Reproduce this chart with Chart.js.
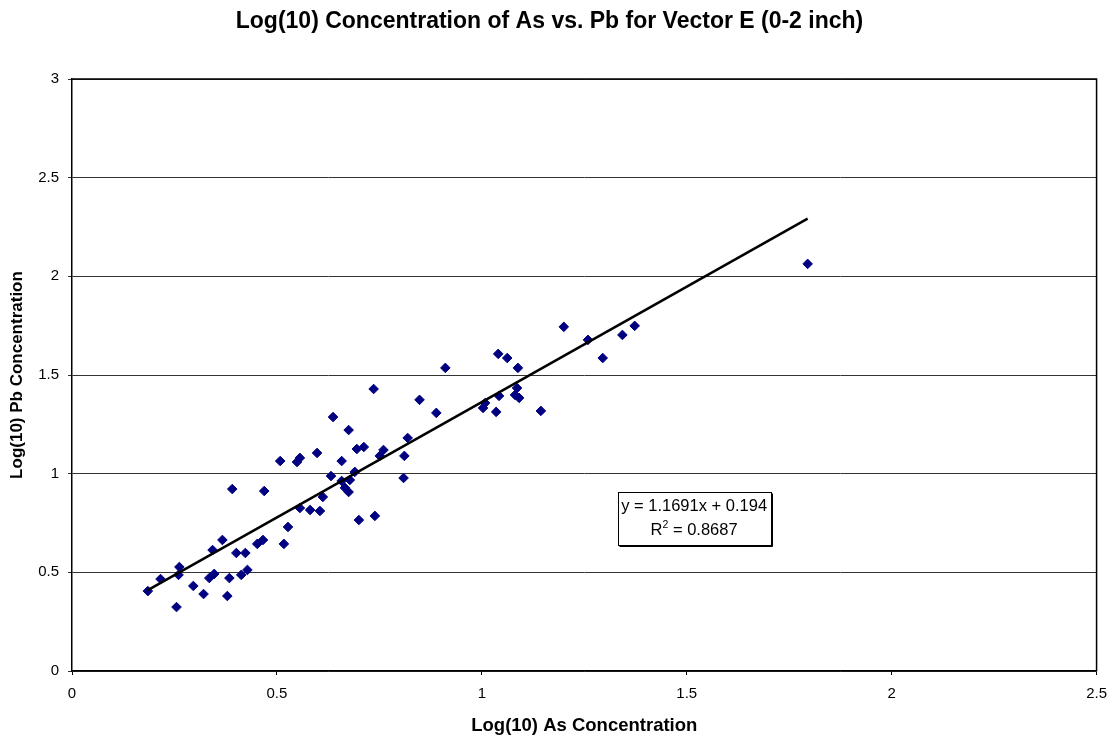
<!DOCTYPE html>
<html>
<head>
<meta charset="utf-8">
<script src="https://cdn.jsdelivr.net/npm/chart.js@4.4.0/dist/chart.umd.min.js"></script>
<style>
  html, body { margin: 0; padding: 0; background: #fff; }
  #wrap { width: 1117px; height: 742px; }
</style>
</head>
<body>
<div id="wrap"><canvas id="c" width="1117" height="742"></canvas></div>
<script>
// ---- Data ----
const asLog = [0.185,0.216,0.255,0.260,0.262,0.296,0.321,0.335,0.343,0.347,
               0.367,0.379,0.384,0.391,0.401,0.413,0.423,0.428,0.452,0.466,
               0.469,0.508,0.517,0.527,0.549,0.556,0.556,0.581,0.598,0.605,
               0.612,0.632,0.637,0.658,0.658,0.666,0.675,0.675,0.678,0.690,
               0.695,0.700,0.712,0.736,0.739,0.751,0.760,0.809,0.811,0.819,
               0.848,0.889,0.911,1.003,1.008,1.035,1.040,1.042,1.062,1.081,
               1.086,1.088,1.091,1.144,1.200,1.259,1.295,1.343,1.373,1.795];
const pbLog = [0.405,0.466,0.324,0.487,0.527,0.431,0.390,0.471,0.613,0.492,
               0.664,0.380,0.471,0.922,0.598,0.487,0.598,0.512,0.644,0.664,
               0.912,1.064,0.644,0.730,1.059,1.080,0.826,0.816,1.105,0.811,
               0.882,0.988,1.287,1.064,0.963,0.928,1.221,0.907,0.968,1.009,
               1.125,0.765,1.135,1.429,0.786,1.090,1.120,0.978,1.090,1.181,
               1.374,1.308,1.536,1.333,1.358,1.313,1.607,1.394,1.586,1.399,
               1.434,1.536,1.384,1.318,1.744,1.678,1.586,1.703,1.749,2.063];
const trendSlope = 1.1691;
const trendIntercept = 0.194;
const trendLabel1 = "y = 1.1691x + 0.194";
const trendLabelR = "R";
const trendLabelSup = "2";
const trendLabel2 = " = 0.8687";
const xTicks = [0, 0.5, 1, 1.5, 2, 2.5];
const yTicks = [0, 0.5, 1, 1.5, 2, 2.5, 3];
const xTickLabels = ["0", "0.5", "1", "1.5", "2", "2.5"];
const yTickLabels = ["0", "0.5", "1", "1.5", "2", "2.5", "3"];
const titleText = "Log(10) Concentration of As vs. Pb for Vector E (0-2 inch)";
const xTitle = "Log(10) As Concentration";
const yTitle = "Log(10) Pb Concentration";

// ---- Build datasets ----
const points = asLog.map((x, i) => ({ x: x, y: pbLog[i] }));
const xMin = Math.min(...asLog), xMax = Math.max(...asLog);
const trend = [xMin, xMax].map(x => ({ x: x, y: trendSlope * x + trendIntercept }));

const FONT = "'Liberation Sans', Arial, sans-serif";

const frame = {
  id: 'frame',
  afterDraw(chart) {
    const { ctx, chartArea: a } = chart;
    ctx.save();
    ctx.strokeStyle = '#000';
    ctx.lineWidth = 1.5;
    ctx.beginPath();
    ctx.moveTo(a.left, a.top);
    ctx.lineTo(a.right, a.top);
    ctx.lineTo(a.right, a.bottom);
    ctx.stroke();
    ctx.restore();
  }
};

const annot = {
  id: 'annot',
  afterDatasetsDraw(chart) {
    const { ctx, scales } = chart;
    const cx = scales.x.getPixelForValue(1.518);
    const cy = scales.y.getPixelForValue(0.772);
    const w = 153, h = 53;
    const l = Math.round(cx - w / 2) + 0.5, t = Math.round(cy - h / 2) + 0.5;
    ctx.save();
    ctx.fillStyle = '#fff';
    ctx.fillRect(l, t, w, h);
    ctx.strokeStyle = '#000';
    ctx.lineWidth = 1;
    ctx.strokeRect(l, t, w, h);
    ctx.beginPath();
    ctx.moveTo(l + w + 1, t + 1);
    ctx.lineTo(l + w + 1, t + h + 1);
    ctx.lineTo(l + 1, t + h + 1);
    ctx.stroke();
    ctx.fillStyle = '#000';
    ctx.font = "16.5px " + FONT;
    ctx.textBaseline = 'middle';
    ctx.textAlign = 'center';
    ctx.fillText(trendLabel1, cx, cy - 12);
    const wR = ctx.measureText(trendLabelR).width;
    const wRest = ctx.measureText(trendLabel2).width;
    ctx.font = "10.5px " + FONT;
    const wS = ctx.measureText(trendLabelSup).width;
    const total = wR + wS + wRest;
    let x0 = cx - total / 2;
    ctx.textAlign = 'left';
    ctx.font = "16.5px " + FONT;
    ctx.fillText(trendLabelR, x0, cy + 12);
    ctx.font = "10.5px " + FONT;
    ctx.fillText(trendLabelSup, x0 + wR, cy + 6);
    ctx.font = "16.5px " + FONT;
    ctx.fillText(trendLabel2, x0 + wR + wS, cy + 12);
    ctx.restore();
  }
};

new Chart(document.getElementById('c'), {
  type: 'scatter',
  data: {
    datasets: [
      {
        label: 'Pb vs As',
        data: points,
        pointStyle: 'rectRot',
        pointRadius: 4.8,
        pointHoverRadius: 4.8,
        backgroundColor: '#000080',
        borderColor: '#000080',
        borderWidth: 1,
        order: 2
      },
      {
        type: 'line',
        label: 'Linear',
        data: trend,
        borderColor: '#000',
        borderWidth: 2.5,
        pointRadius: 0,
        fill: false,
        order: 1
      }
    ]
  },
  options: {
    responsive: false,
    animation: false,
    devicePixelRatio: 1,
    layout: { padding: { left: 0, right: 18, top: 0, bottom: 0 } },
    plugins: {
      legend: { display: false },
      tooltip: { enabled: false },
      title: {
        display: true,
        text: titleText,
        color: '#000',
        font: { family: FONT, size: 23, weight: 'bold' },
        padding: { top: 8, bottom: 43.4 }
      }
    },
    scales: {
      x: {
        type: 'linear',
        min: 0, max: 2.5,
        afterBuildTicks(s) { s.ticks = xTicks.map(v => ({ value: v })); },
        afterFit(s) { s.height = 71; },
        grid: { drawOnChartArea: false, drawTicks: true, tickLength: 4, color: '#000', lineWidth: 1 },
        border: { display: true, color: '#000', width: 1.5 },
        ticks: {
          color: '#000', font: { family: FONT, size: 15 }, padding: 10,
          callback: (v, i) => xTickLabels[i]
        },
        title: {
          display: true, text: xTitle, color: '#000',
          font: { family: FONT, size: 18.5, weight: 'bold' },
          padding: { top: 0, bottom: 5 }
        }
      },
      y: {
        type: 'linear',
        min: 0, max: 3,
        afterBuildTicks(s) { s.ticks = yTicks.map(v => ({ value: v })); },
        afterFit(s) { s.width = 72; },
        grid: { drawOnChartArea: true, drawTicks: true, tickLength: 4, color: '#333', lineWidth: 1 },
        border: { display: true, color: '#000', width: 1.5 },
        ticks: {
          color: '#000', font: { family: FONT, size: 15 }, padding: 9,
          callback: (v, i) => yTickLabels[i]
        },
        title: {
          display: true, text: yTitle, color: '#000',
          font: { family: FONT, size: 17, weight: 'bold' },
          padding: { top: 7, bottom: 0 }
        }
      }
    }
  },
  plugins: [annot, frame]
});
</script>
</body>
</html>
